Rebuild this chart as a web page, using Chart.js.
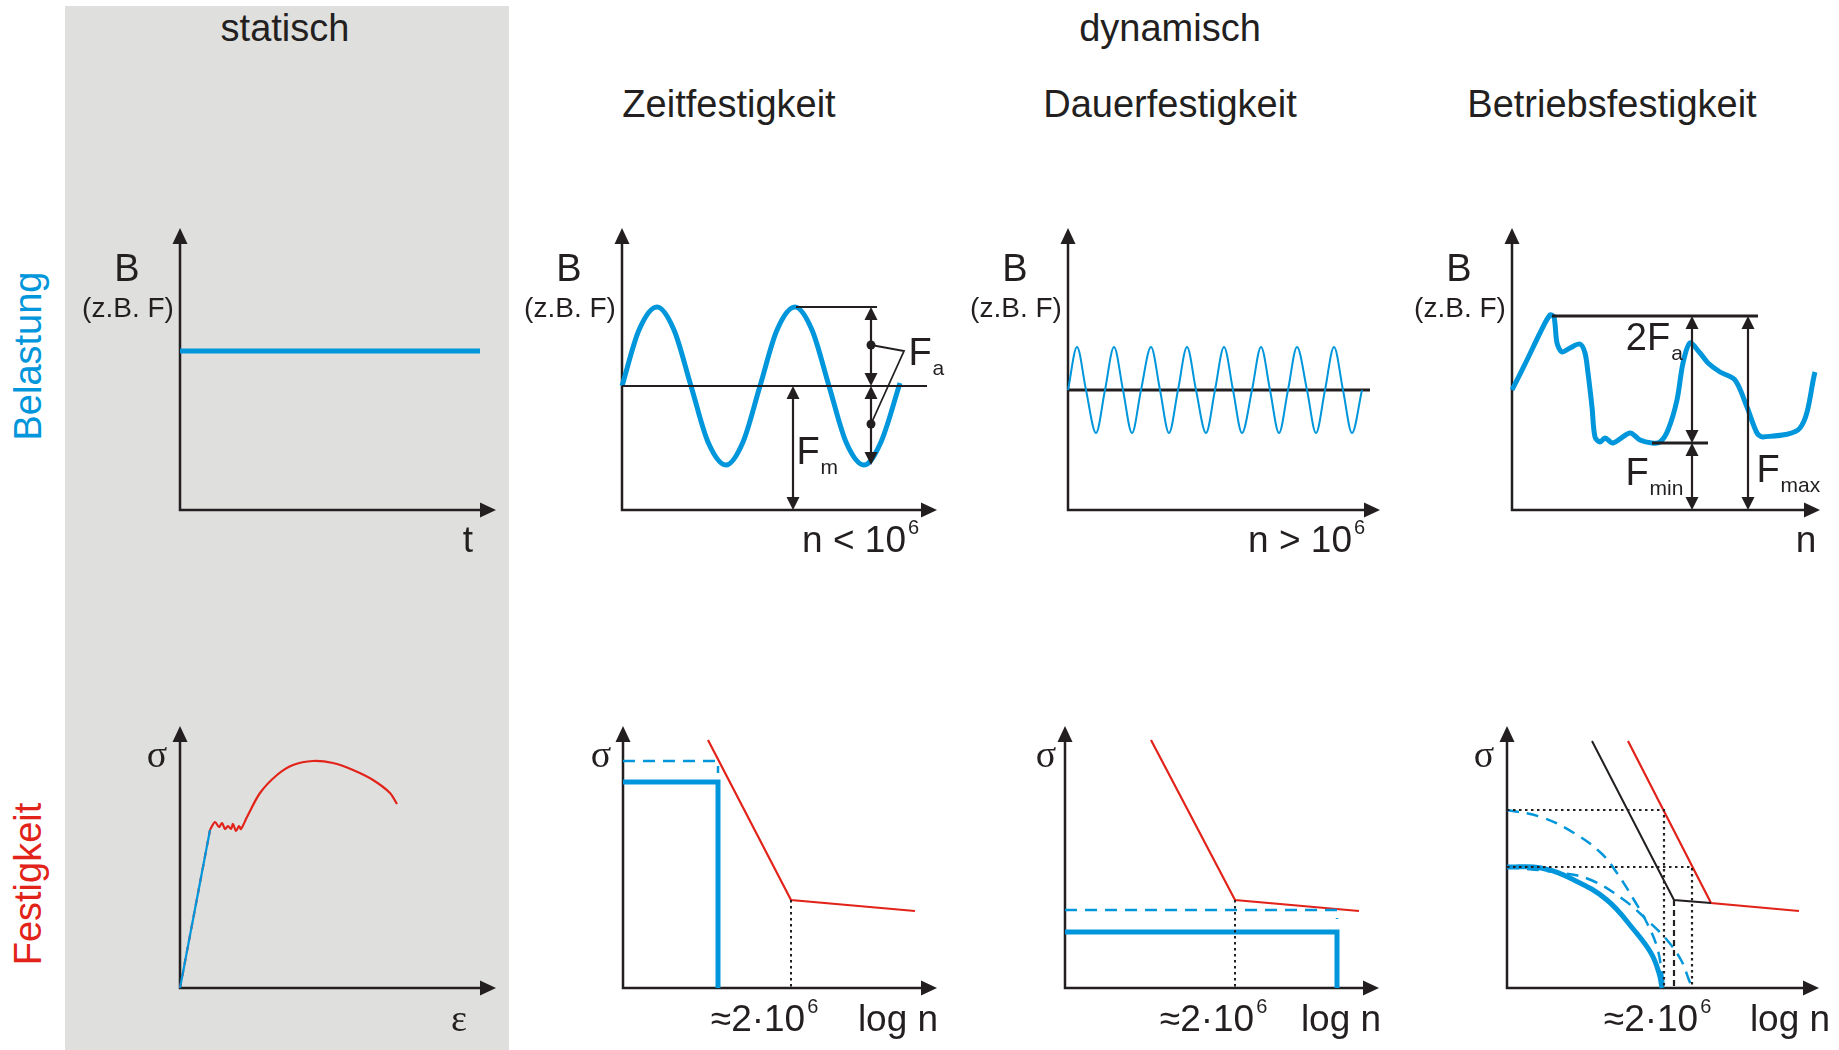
<!doctype html>
<html lang="de">
<head>
<meta charset="utf-8">
<title>Statische und dynamische Festigkeit</title>
<script src="https://cdn.jsdelivr.net/npm/chart.js"></script>
<style>
  body { margin: 0; background: #fff; }
  #page { position: relative; width: 1839px; height: 1050px; overflow: hidden;
          font-family: "Liberation Sans", Arial, sans-serif; color: #231f20; }
  #grau { position: absolute; left: 65px; top: 6px; width: 444px; height: 1044px; background: #dfdfde; }
  .t { position: absolute; transform: translate(-50%, -50%); font-size: 38px; white-space: nowrap; }
  .rot { transform: translate(-50%, -50%) rotate(-90deg); font-size: 38px; }
  canvas { position: absolute; left: 0; top: 0; }
</style>
</head>
<body>
<div id="page">
  <div id="grau"></div>
  <div class="t" style="left:285px;top:28px">statisch</div>
  <div class="t" style="left:1170px;top:28px">dynamisch</div>
  <div class="t" style="left:729px;top:104px">Zeitfestigkeit</div>
  <div class="t" style="left:1170px;top:104px">Dauerfestigkeit</div>
  <div class="t" style="left:1612px;top:104px">Betriebsfestigkeit</div>
  <div class="t rot" style="left:28px;top:356px;color:#0096db">Belastung</div>
  <div class="t rot" style="left:28px;top:884px;color:#e2231a">Festigkeit</div>
</div>
<script>
const BLUE = '#0096db', RED = '#e2231a', INK = '#231f20';

// --- Belastung (obere Reihe), Einheiten relativ zum Achsenursprung ---
const statischLast = [[0, 159], [300, 159]];

const zeitMittel = [[0, 124], [305, 124]];
const zeitLast = [[0, 124], [17, 180], [35, 203], [52, 180], [69, 124], [86, 68], [104, 45], [121, 68],
  [138, 124], [155, 180], [173, 203], [190, 180], [207, 124], [224, 68], [242, 45], [259, 68], [278, 127]];
const zeitOben = [[174, 203], [255, 203]];
const zeitPfeile = [[249, 203, 249, 124], [249, 124, 249, 45], [171, 124, 171, 0]];
const zeitPunkte = [[249, 165], [249, 86]];
const zeitHinweis = [[249, 165], [282, 159], [249, 86]];

const dauerMittel = [[0, 120], [302, 120]];
const dauerLast = [[0, 120], [9, 163], [18, 120], [28, 77], [37, 120], [46, 163], [55, 120], [64, 77],
  [73, 120], [83, 163], [92, 120], [101, 77], [110, 120], [119, 163], [128, 120], [138, 77],
  [147, 120], [156, 163], [165, 120], [174, 77], [184, 120], [193, 163], [202, 120], [211, 77],
  [220, 120], [229, 163], [239, 120], [248, 77], [257, 120], [266, 163], [275, 120], [284, 77], [294, 120]];

const betriebLast = [[0, 120], [15, 150], [28, 177], [38, 195], [42, 193], [45, 167], [50, 158], [58, 162],
  [68, 166], [73, 157], [76, 137], [80, 103], [83, 73], [88, 68], [93, 72], [101, 67], [118, 77],
  [128, 70], [140, 67], [148, 68], [156, 80], [165, 110], [171, 147], [178, 167], [188, 157],
  [196, 147], [208, 138], [223, 130], [235, 103], [245, 77], [251, 73], [288, 82], [303, 138]];
const betriebOben = [[40, 194], [246, 194]];
const betriebUnten = [[140, 67], [196, 67]];
const betriebPfeile = [[180, 194, 180, 67], [180, 67, 180, 0], [236, 194, 236, 0]];

// --- Festigkeit (untere Reihe) ---
const statElastisch = [[0, 0], [30, 158]];
const statFliess = [[30, 158], [35, 166], [39, 161], [42, 165], [45, 159], [48, 162], [51, 159], [53, 164],
  [56, 157], [59, 162], [61, 159], [67, 171], [80, 195], [97, 213], [113, 223], [133, 227],
  [153, 225], [173, 218], [193, 208], [210, 195], [217, 184]];

const zeitWoehler = [[85, 248], [168, 88], [292, 77]];
const zeitGrenze = [[0, 227], [95, 227], [95, 215]];
const zeitBereich = [[0, 206], [95, 206], [95, 0]];
const zeitEcke = [[168, 88], [168, 0]];

const dauerWoehler = [[86, 248], [170, 88], [294, 77]];
const dauerGrenze = [[0, 78], [272, 78], [272, 69]];
const dauerBereich = [[0, 56], [272, 56], [272, 0]];
const dauerEcke = [[170, 88], [170, 0]];

const betriebWoehler = [[121, 247], [204, 85], [292, 77]];
const betriebBauteil = [[85, 247], [167, 88], [204, 85]];
const betriebHilfOben = [[0, 178], [157, 178], [157, 0]];
const betriebHilfUnten = [[0, 121], [185, 121], [185, 0]];
const betriebEcke = [[167, 88], [167, 0]];
const betriebSpektrum = [[0, 121], [34, 120], [67, 108], [100, 88], [127, 58], [144, 35], [152, 15], [155, 0]];
const betriebKurveA = [[0, 121], [54, 115], [84, 108], [117, 88], [140, 68], [160, 48], [174, 28], [182, 8], [185, 0]];
const betriebKurveB = [[0, 178], [34, 171], [67, 155], [94, 135], [110, 115], [127, 88], [140, 65], [150, 41], [155, 15], [157, 0]];

const pts = a => a.map(([x, y]) => ({ x, y }));
const SANS = '"Liberation Sans", Arial, sans-serif';
const SERIF = '"Liberation Serif", "DejaVu Serif", serif';
const DOT = [2.5, 3.5], DASH = [12, 8];

const bLabels = [
  { x: -53, y: 239, t: 'B', size: 38 },
  { x: -52, y: 201, t: '(z.B. F)', size: 28 }
];

const panels = [
  { ox: 180, oy: 510, w: 316, h: 282,
    sets: [{ data: statischLast, borderColor: BLUE, borderWidth: 5 }],
    labels: [...bLabels, { x: 288, y: -32, t: 't' }] },
  { ox: 622, oy: 510, w: 315, h: 282,
    sets: [
      { data: zeitMittel, borderWidth: 2 },
      { data: zeitOben, borderWidth: 2 },
      { data: zeitHinweis, borderWidth: 1.8 },
      { data: zeitLast, borderColor: BLUE, borderWidth: 5, cubicInterpolationMode: 'monotone' },
      { data: zeitPunkte, showLine: false, pointRadius: 4.5, backgroundColor: INK, borderWidth: 0 }
    ],
    arrows: zeitPfeile,
    labels: [...bLabels, { x: 284, y: -32, t: 'n < 10', align: 'right', sup: '6' },
      { x: 298, y: 155, t: 'F', size: 38, sub: 'a' }, { x: 186, y: 56, t: 'F', size: 38, sub: 'm' }] },
  { ox: 1068, oy: 510, w: 312, h: 282,
    sets: [
      { data: dauerLast, borderColor: BLUE, borderWidth: 2, cubicInterpolationMode: 'monotone' },
      { data: dauerMittel, borderWidth: 3.2 }
    ],
    labels: [...bLabels, { x: 284, y: -32, t: 'n > 10', align: 'right', sup: '6' }] },
  { ox: 1512, oy: 510, w: 308, h: 282,
    sets: [
      { data: betriebOben, borderWidth: 3 },
      { data: betriebUnten, borderWidth: 3 },
      { data: betriebLast, borderColor: BLUE, borderWidth: 5, tension: 0.3 }
    ],
    arrows: betriebPfeile,
    labels: [...bLabels, { x: 294, y: -32, t: 'n' },
      { x: 136, y: 170, t: '2F', size: 38, sub: 'a' }, { x: 125, y: 35, t: 'F', size: 38, sub: 'min' },
      { x: 256, y: 38, t: 'F', size: 38, sub: 'max' }] },
  { ox: 180, oy: 988, w: 316, h: 262,
    sets: [
      { data: statElastisch, borderColor: BLUE, borderWidth: 2.2 },
      { data: statElastisch, borderColor: RED, borderWidth: 2.2, borderDash: [6, 6] },
      { data: statFliess, borderColor: RED, borderWidth: 2.2, tension: 0.3 }
    ],
    labels: [{ x: -23, y: 231, t: 'σ', serif: true, size: 38 }, { x: 279, y: -33, t: 'ε', serif: true, size: 38 }] },
  { ox: 623, oy: 988, w: 314, h: 262,
    sets: [
      { data: zeitEcke, borderWidth: 2, borderDash: DOT },
      { data: zeitGrenze, borderColor: BLUE, borderWidth: 2.5, borderDash: DASH },
      { data: zeitBereich, borderColor: BLUE, borderWidth: 5 },
      { data: zeitWoehler, borderColor: RED, borderWidth: 2.2 }
    ],
    labels: [{ x: -22, y: 231, t: 'σ', serif: true, size: 38 }, { x: 135, y: -33, t: '≈2·10', sup: '6' },
      { x: 275, y: -33, t: 'log n' }] },
  { ox: 1065, oy: 988, w: 314, h: 262,
    sets: [
      { data: dauerEcke, borderWidth: 2, borderDash: DOT },
      { data: dauerGrenze, borderColor: BLUE, borderWidth: 2.5, borderDash: DASH },
      { data: dauerBereich, borderColor: BLUE, borderWidth: 5 },
      { data: dauerWoehler, borderColor: RED, borderWidth: 2.2 }
    ],
    labels: [{ x: -19, y: 231, t: 'σ', serif: true, size: 38 }, { x: 142, y: -33, t: '≈2·10', sup: '6' },
      { x: 276, y: -33, t: 'log n' }] },
  { ox: 1507, oy: 988, w: 312, h: 262,
    sets: [
      { data: betriebHilfOben, borderWidth: 2.2, borderDash: DOT },
      { data: betriebHilfUnten, borderWidth: 2.2, borderDash: DOT },
      { data: betriebEcke, borderWidth: 2.2, borderDash: [6, 4] },
      { data: betriebKurveB, borderColor: BLUE, borderWidth: 2.5, borderDash: DASH, tension: 0.4 },
      { data: betriebKurveA, borderColor: BLUE, borderWidth: 2.5, borderDash: DASH, tension: 0.4 },
      { data: betriebSpektrum, borderColor: BLUE, borderWidth: 5, tension: 0.4 },
      { data: betriebBauteil, borderWidth: 2 },
      { data: betriebWoehler, borderColor: RED, borderWidth: 2.2 }
    ],
    labels: [{ x: -23, y: 231, t: 'σ', serif: true, size: 38 }, { x: 144, y: -33, t: '≈2·10', sup: '6' },
      { x: 283, y: -33, t: 'log n' }] }
];

function head(ctx, x1, y1, x2, y2, len, half) {
  const a = Math.atan2(y2 - y1, x2 - x1);
  ctx.beginPath();
  ctx.moveTo(x2, y2);
  ctx.lineTo(x2 - len * Math.cos(a) + half * Math.sin(a), y2 - len * Math.sin(a) - half * Math.cos(a));
  ctx.lineTo(x2 - len * Math.cos(a) - half * Math.sin(a), y2 - len * Math.sin(a) + half * Math.cos(a));
  ctx.closePath();
  ctx.fill();
}

function label(ctx, px, py, L) {
  const size = L.size || 37;
  const fam = L.serif ? SERIF : SANS;
  ctx.save();
  ctx.fillStyle = L.color || INK;
  ctx.textBaseline = 'middle';
  ctx.textAlign = 'left';
  ctx.font = size + 'px ' + fam;
  const w = ctx.measureText(L.t).width;
  const left = L.align === 'right' ? px - w : L.align === 'left' ? px : px - w / 2;
  ctx.fillText(L.t, left, py);
  if (L.sub) {
    ctx.font = Math.round(size * 0.55) + 'px ' + fam;
    ctx.fillText(L.sub, left + w + 1, py + size * 0.37);
  }
  if (L.sup) {
    ctx.font = Math.round(size * 0.55) + 'px ' + fam;
    ctx.fillText(L.sup, left + w + 2, py - size * 0.36);
  }
  ctx.restore();
}

function sketch(p) {
  return {
    id: 'sketch',
    beforeDatasetsDraw(chart) {
      const { ctx, scales: { x, y } } = chart;
      const x0 = x.getPixelForValue(0), y0 = y.getPixelForValue(0);
      const xe = x.getPixelForValue(p.w), ye = y.getPixelForValue(p.h);
      ctx.save();
      ctx.strokeStyle = INK; ctx.fillStyle = INK; ctx.lineWidth = 2.5;
      ctx.beginPath();
      ctx.moveTo(x0, ye + 10); ctx.lineTo(x0, y0); ctx.lineTo(xe - 10, y0);
      ctx.stroke();
      head(ctx, x0, y0, x0, ye, 16, 7.5);
      head(ctx, x0, y0, xe, y0, 16, 7.5);
      ctx.restore();
    },
    afterDatasetsDraw(chart) {
      const { ctx, scales: { x, y } } = chart;
      ctx.save();
      ctx.strokeStyle = INK; ctx.fillStyle = INK; ctx.lineWidth = 2.2;
      (p.arrows || []).forEach(([a, b, c, d]) => {
        const X1 = x.getPixelForValue(a), Y1 = y.getPixelForValue(b);
        const X2 = x.getPixelForValue(c), Y2 = y.getPixelForValue(d);
        ctx.beginPath(); ctx.moveTo(X1, Y1 + 8); ctx.lineTo(X2, Y2 - 8); ctx.stroke();
        head(ctx, X1, Y1 + 20, X1, Y1, 13, 6.5);
        head(ctx, X2, Y2 - 20, X2, Y2, 13, 6.5);
      });
      (p.labels || []).forEach(L => label(ctx, x.getPixelForValue(L.x), y.getPixelForValue(L.y), L));
      ctx.restore();
    }
  };
}

const page = document.getElementById('page');
panels.forEach(p => {
  const cv = document.createElement('canvas');
  cv.width = 1839; cv.height = 1050;
  page.appendChild(cv);
  new Chart(cv, {
    type: 'scatter',
    data: {
      datasets: p.sets.map(s => Object.assign({
        showLine: true, pointRadius: 0, clip: false, fill: false,
        borderColor: INK, borderWidth: 2.5, tension: 0
      }, s, { data: pts(s.data) }))
    },
    options: {
      responsive: false, animation: false, events: [],
      layout: { padding: { left: p.ox, top: p.oy - p.h, right: 1839 - p.ox - p.w, bottom: 1050 - p.oy } },
      scales: {
        x: { type: 'linear', display: false, min: 0, max: p.w },
        y: { type: 'linear', display: false, min: 0, max: p.h }
      },
      plugins: { legend: { display: false }, tooltip: { enabled: false } }
    },
    plugins: [sketch(p)]
  });
});
</script>
</body>
</html>
